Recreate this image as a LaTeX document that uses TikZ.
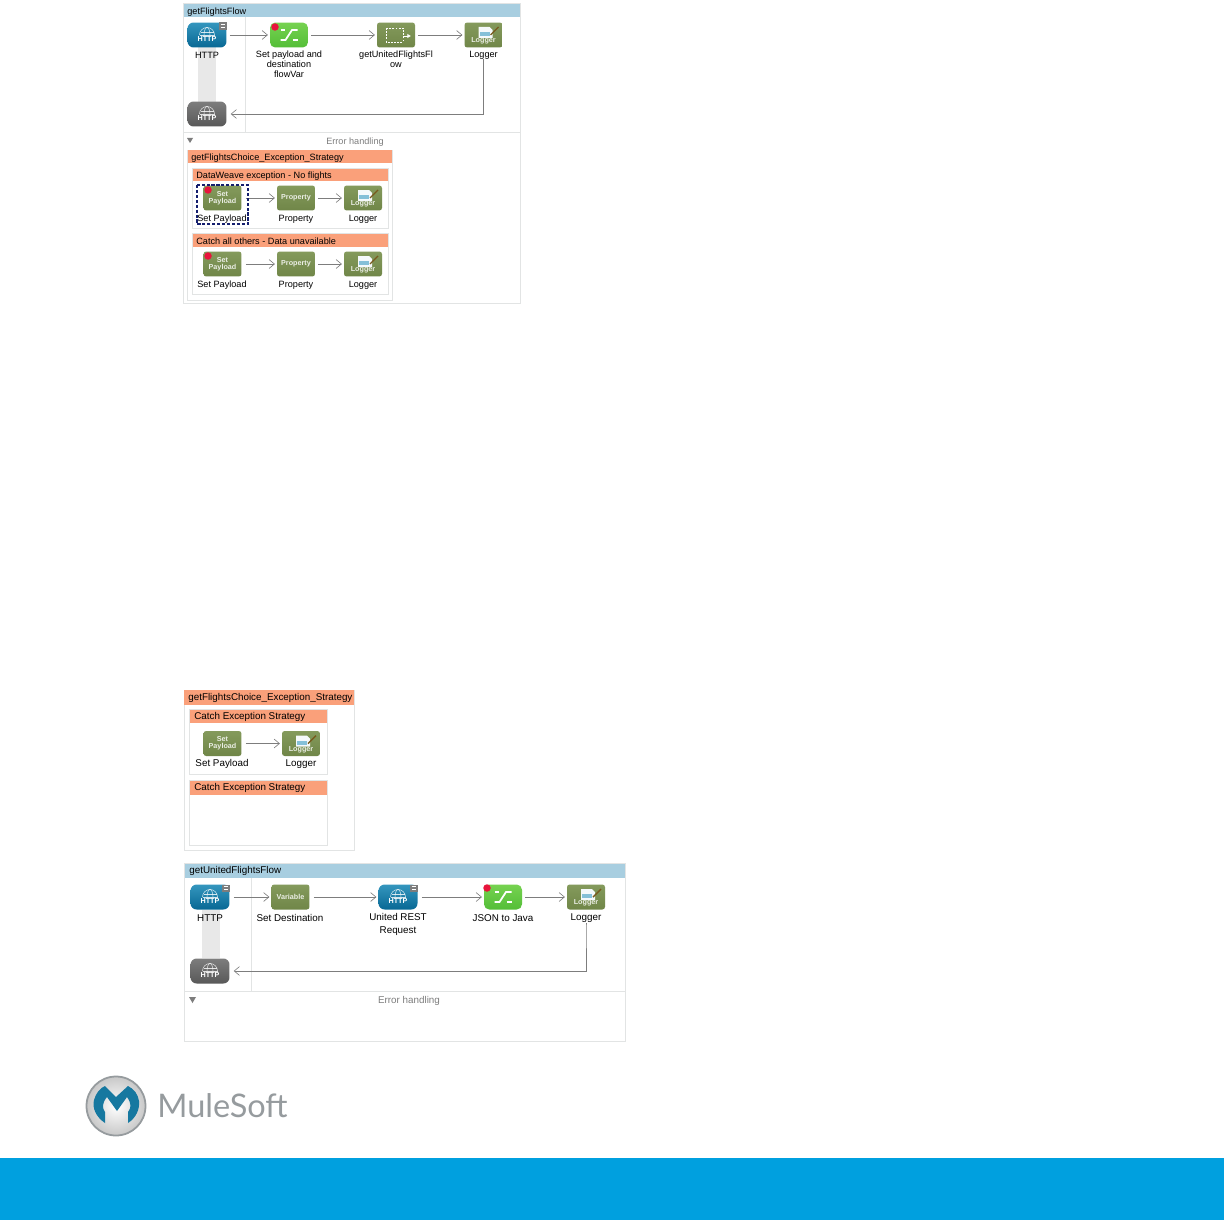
\documentclass[tikz,border=0pt]{standalone}
\usepackage{fontspec}
\setmainfont{Liberation Sans}
\usetikzlibrary{calc, positioning, arrows.meta}
\definecolor{flowBlue}{RGB}{168,206,224}
\definecolor{errorOrange}{RGB}{250,160,122}
\definecolor{frameGrey}{RGB}{226,228,228}
\definecolor{stripGrey}{RGB}{232,232,232}
\definecolor{lineGrey}{RGB}{125,125,125}
\definecolor{textGrey}{RGB}{125,125,125}
\definecolor{mosGreen}{RGB}{112,134,72}
\definecolor{mosGreenTop}{RGB}{132,154,92}
\definecolor{limeGreen}{RGB}{84,190,56}
\definecolor{limeGreenTop}{RGB}{118,210,80}
\definecolor{httpBlue}{RGB}{8,104,148}
\definecolor{httpBlueTop}{RGB}{52,150,190}
\definecolor{httpDark}{RGB}{88,88,88}
\definecolor{httpDarkTop}{RGB}{125,125,125}
\definecolor{breakRed}{RGB}{232,20,60}
\definecolor{dashNavy}{RGB}{20,30,110}
\definecolor{brandBlue}{RGB}{0,160,223}
\definecolor{logoBlue}{RGB}{22,120,160}
\definecolor{logoGrey}{RGB}{150,155,158}
\definecolor{pencilBrown}{RGB}{120,90,30}

\begin{document}
\begin{tikzpicture}[
  x=0.02cm, y=-0.02cm,
  font=\fontsize{5.2pt}{5.7pt}\selectfont,
  largetext/.style={font=\fontsize{5.6pt}{6pt}\selectfont},
  frame/.style={draw=frameGrey, fill=white, line width=0.4pt},
  flowhead/.style={fill=flowBlue},
  errorhead/.style={fill=errorOrange},
  headtext/.style={anchor=west, inner sep=0pt, yshift=-0.02cm},
  tag/.style={inner sep=0pt, align=center, yshift=-0.02cm},
  sepline/.style={frameGrey, line width=0.4pt},
  link/.style={lineGrey, line width=0.35pt, -{Straight Barb[length=3pt, width=5pt]}, shorten >=1pt},
  backlink/.style={link, shorten >=2.2pt},
  moss/.style={rounded corners=1.5pt, top color=mosGreenTop, bottom color=mosGreen, minimum width=0.76cm, minimum height=0.5cm, inner sep=0pt},
  lime/.style={rounded corners=3pt, top color=limeGreenTop, bottom color=limeGreen, minimum width=0.76cm, minimum height=0.5cm, inner sep=0pt},
  httpin/.style={rounded corners=3.5pt, top color=httpBlueTop, bottom color=httpBlue, minimum width=0.78cm, minimum height=0.5cm, inner sep=0pt},
  httpout/.style={rounded corners=3.5pt, top color=httpDarkTop, bottom color=httpDark, minimum width=0.78cm, minimum height=0.5cm, inner sep=0pt},
  icontext/.style={white, inner sep=0pt, align=center, font=\fontsize{4.1pt}{4.2pt}\selectfont\bfseries},
  breakdot/.style={circle, fill=breakRed, inner sep=0pt, minimum size=0.15cm},
]
\useasboundingbox (0,0) rectangle (1224,1220);

% Flow 1: getFlightsFlow
\draw[frame] (183,3) rectangle (520,303);
\fill[flowhead] (183.5,4) rectangle (519.5,17);
\node[headtext] (titleA) at (187,11) {getFlightsFlow};
\draw[sepline] (245,17) -- (245,132);
\draw[sepline] (183,132) -- (520,132);
\fill[stripGrey] (198,47) rectangle (216,102);

\node[httpin] (httpA) at (207,35) {};
\node[httpout] (httpB) at (207,114) {};
\node[lime] (setVar) at (289,35) {};
\node[moss] (flowRef) at (396,35) {};
\node[moss] (logA) at (483.5,35) {};

\node[tag] (httpAtag) at (207,54) {HTTP};
\node[tag, anchor=north] (setVartag) at (289,49.5) {Set payload and\\destination\\flowVar};
\node[tag, anchor=north] (flowReftag) at (396,49.5) {getUnitedFlightsFl\\ow};
\node[tag] (logAtag) at (483.5,54) {Logger};

\draw[link] (httpA.east) ++(3,0) -- (setVar.west);
\draw[link] (setVar.east) ++(3,0) -- (flowRef.west);
\draw[link] (flowRef.east) ++(3,0) -- (logA.west);
\draw[backlink] (logAtag.south) -- ++(0,2) |- (httpB.east);

% Error handling of flow 1
\fill[textGrey] (187,138) -- (193,138) -- (190,143) -- cycle;
\node[tag, textGrey] (errA) at (355,141) {Error handling};
\draw[frame] (187,150) rectangle (392,300);
\fill[errorhead] (187.5,150.5) rectangle (391.5,163);
\node[headtext] (titleB) at (191,157) {getFlightsChoice\_Exception\_Strategy};

\draw[frame] (192,168) rectangle (388,228);
\fill[errorhead] (192.5,168.5) rectangle (387.5,181);
\node[headtext] (titleC) at (196,175) {DataWeave exception - No flights};
\draw[frame] (192,233) rectangle (388,294);
\fill[errorhead] (192.5,233.5) rectangle (387.5,247);
\node[headtext] (titleD) at (196,240) {Catch all others - Data unavailable};

\node[moss] (payA) at (222.5,198) {};
\node[moss] (propA) at (296,198) {};
\node[moss] (logB) at (363,198) {};
\node[moss] (payB) at (222.5,264) {};
\node[moss] (propB) at (296,264) {};
\node[moss] (logC) at (363,264) {};

\foreach \name/\yy in {A/218, B/284} {
  \node[tag] (payTag\name) at (222,\yy) {Set Payload};
  \node[tag] (propTag\name) at (296,\yy) {Property};
}
\node[tag] (logBtag) at (363,218) {Logger};
\node[tag] (logCtag) at (363,284) {Logger};

\draw[link] (payA.east) ++(4,0) -- (propA.west);
\draw[link] (propA.east) ++(3,0) -- (logB.west);
\draw[link] (payB.east) ++(4,0) -- (propB.west);
\draw[link] (propB.east) ++(3,0) -- (logC.west);
\draw[dashNavy, line width=0.7pt, dash pattern=on 1.8pt off 1pt] (197,185) rectangle (248,224);

% Middle: exception strategy on its own
\begin{scope}[largetext]
\draw[frame] (184,690) rectangle (354,850);
\fill[errorhead] (184,690) rectangle (354,705);
\node[headtext] (titleE) at (188,697) {getFlightsChoice\_Exception\_Strategy};
\draw[frame] (189,709) rectangle (327,774);
\fill[errorhead] (189.5,709.5) rectangle (326.5,723);
\node[headtext] (titleF) at (194,716) {Catch Exception Strategy};
\draw[frame] (189,780) rectangle (327,845);
\fill[errorhead] (189.5,780.5) rectangle (326.5,795);
\node[headtext] (titleG) at (194,787) {Catch Exception Strategy};

\node[moss] (payC) at (222.5,743.5) {};
\node[moss] (logD) at (301,743.5) {};
\node[tag] (payTagC) at (222,763) {Set Payload};
\node[tag] (logDtag) at (301,763) {Logger};
\draw[link] (payC.east) ++(4,0) -- (logD.west);

% Flow 2: getUnitedFlightsFlow
\draw[frame] (184,863) rectangle (625,1041);
\fill[flowhead] (184.5,864) rectangle (624.5,878);
\node[headtext] (titleH) at (189,870) {getUnitedFlightsFlow};
\draw[sepline] (251,878) -- (251,991);
\draw[sepline] (184,991) -- (625,991);
\fill[stripGrey] (202,910) rectangle (220,958);

\node[httpin] (httpC) at (210,897) {};
\node[httpout] (httpD) at (210,971) {};
\node[moss] (setDest) at (290.5,897) {};
\node[httpin] (httpE) at (398,897) {};
\node[lime] (toJava) at (503,897) {};
\node[moss] (logE) at (586,897) {};

\node[tag] (httpCtag) at (210,917) {HTTP};
\node[tag] (setDestTag) at (290,917) {Set Destination};
\node[tag, anchor=north] (httpEtag) at (398,912.5) {United REST\\[1.1pt]Request};
\node[tag] (toJavaTag) at (503,917) {JSON to Java};
\node[tag] (logEtag) at (586,917) {Logger};

\draw[link] (httpC.east) ++(4,0) -- (setDest.west);
\draw[link] (setDest.east) ++(4,0) -- (httpE.west);
\draw[link] (httpE.east) ++(4,0) -- (toJava.west);
\draw[link] (toJava.east) ++(3,0) -- (logE.west);
\draw[backlink] (logEtag.south) -- ++(0,3) |- (httpD.east);

\fill[textGrey] (189,997) -- (196,997) -- (192.5,1003) -- cycle;
\node[tag, textGrey] (errB) at (409,1000) {Error handling};
\end{scope}

% Icon faces: globe + word on the HTTP nodes
\foreach \name in {httpA, httpB, httpC, httpD, httpE} {
  \draw[white, line width=0.3pt, opacity=0.8] ($(\name)+(-7.5,0)$) arc[start angle=180, end angle=360, radius=7.5];
  \draw[white, line width=0.3pt, opacity=0.8] ($(\name)+(-3,0)$) arc[start angle=180, end angle=360, x radius=3, y radius=7.5];
  \draw[white, line width=0.3pt, opacity=0.8] ($(\name)+(-6.5,-3)$) -- ($(\name)+(6.5,-3)$);
  \draw[white, line width=0.3pt, opacity=0.8] (\name) ++(-7.5,0) -- ++(15,0);
  \node[icontext] (\name word) at ($(\name)+(0,4)$) {HTTP};
}
% Exchange badge on the sources
\foreach \name in {httpA, httpC, httpE} {
  \fill[httpDarkTop] ($(\name)+(12,-12.5)$) rectangle ($(\name)+(19.5,-5)$);
  \draw[white, line width=0.3pt] ($(\name)+(13.5,-10.5)$) -- ($(\name)+(18,-10.5)$);
  \draw[white, line width=0.3pt] ($(\name)+(13.5,-7.5)$) -- ($(\name)+(18,-7.5)$);
}
% Logger face
\foreach \name in {logA, logB, logC, logD, logE} {
  \fill[white!88!flowBlue] ($(\name)+(-5,-8)$) -- ($(\name)+(6,-8)$) -- ($(\name)+(9,-5)$) -- ($(\name)+(9,3)$) -- ($(\name)+(-5,3)$) -- cycle;
  \fill[httpBlueTop!60] ($(\name)+(-4,-3)$) rectangle ($(\name)+(6,1)$);
  \draw[pencilBrown, line width=0.8pt] ($(\name)+(7,0)$) -- ($(\name)+(15,-8)$);
  \node[icontext, opacity=0.85] (\name word) at ($(\name)+(0,6)$) {Logger};
}
% Set Payload + Property + Variable faces
\foreach \name in {payA, payB, payC} {
  \node[icontext, opacity=0.85] (\name word) at (\name) {Set\\Payload};
}
\node[icontext, opacity=0.85] (propAword) at (propA) {Property};
\node[icontext, opacity=0.85] (propBword) at (propB) {Property};
\node[icontext, opacity=0.85] (setDestword) at (setDest) {Variable};
% Flow reference face
\draw[white, line width=0.5pt, dash pattern=on 1pt off 0.8pt] ($(flowRef)+(-10,-7)$) rectangle ($(flowRef)+(7,7)$);
\draw[white, line width=0.5pt, -{Latex[length=2pt, width=2.5pt]}] ($(flowRef)+(8,1)$) -- ($(flowRef)+(15,1)$);
% Transformer face
\foreach \name in {setVar, toJava} {
  \draw[white, line width=1pt] ($(\name)+(-8.5,5)$) -- ($(\name)+(-3.5,5)$) -- ($(\name)+(3,-5)$) -- ($(\name)+(8.5,-5)$);
  \draw[white, line width=1pt] ($(\name)+(-8.5,-5)$) -- ($(\name)+(-4,-5)$);
  \draw[white, line width=1pt] ($(\name)+(3.5,5)$) -- ($(\name)+(8.5,5)$);
}
% Breakpoints
\node[breakdot] (dotA) at ($(setVar)+(-14,-8)$) {};
\node[breakdot] (dotB) at ($(payA)+(-14.5,-8)$) {};
\node[breakdot] (dotC) at ($(payB)+(-14.5,-8)$) {};
\node[breakdot] (dotD) at ($(toJava)+(-16,-9)$) {};

% Logo and footer band
\shade[inner color=white, outer color=black!22] (116,1106) circle[radius=30];
\draw[logoGrey, line width=1pt] (116,1106) circle[radius=29.5];
\fill[logoBlue] (105,1123) .. controls (96,1117) and (92,1108) .. (94,1100)
  .. controls (96,1093) and (100,1088) .. (105,1086) -- (116,1097) -- (128,1086)
  .. controls (134,1089) and (138,1094) .. (139,1101) .. controls (140,1109) and (136,1118) .. (128,1123)
  -- (128,1112) .. controls (131,1108) and (132,1104) .. (127,1097) -- (117,1111) -- (107,1097)
  .. controls (102,1103) and (102,1108) .. (105,1112) -- cycle;
\node[anchor=west, inner sep=0pt, logoGrey, font=\fontsize{18.5pt}{21pt}\fontspec{Lato}] (brand) at (157,1106) {MuleSoft};
\fill[brandBlue] (0,1158) rectangle (1224,1220);

\end{tikzpicture}
\end{document}
